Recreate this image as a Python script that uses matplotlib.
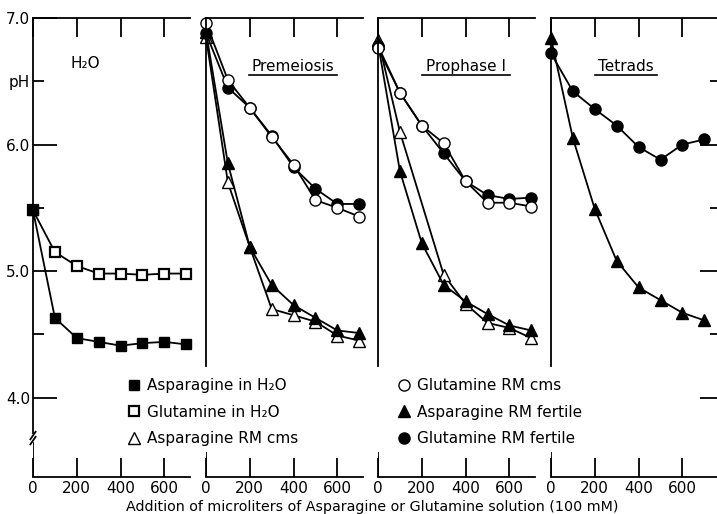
import matplotlib
matplotlib.use("Agg")
import matplotlib.pyplot as plt
from matplotlib.lines import Line2D

plt.rcParams['font.family'] = ['DejaVu Sans']
plt.rcParams['font.size'] = 10

# x: microliters added
x_full = [0, 100, 200, 300, 400, 500, 600, 700]

# H2O panel
asp_h2o = [5.48, 4.63, 4.47, 4.44, 4.41, 4.43, 4.44, 4.42]
glu_h2o = [5.48, 5.15, 5.04, 4.98, 4.98, 4.97, 4.98, 4.98]

# Premeiosis
pre_glu_cms = [6.96, 6.51, 6.29, 6.06, 5.84, 5.56, 5.50, 5.43]
pre_glu_fert = [6.88, 6.45, 6.29, 6.07, 5.82, 5.65, 5.53, 5.53]
pre_asp_fert = [6.89, 5.85, 5.19, 4.89, 4.73, 4.63, 4.53, 4.51]
pre_asp_cms = [6.85, 5.70, 5.19, 4.70, 4.65, 4.60, 4.49, 4.45]

# Prophase I
pro_glu_cms = [6.76, 6.41, 6.15, 6.01, 5.71, 5.54, 5.54, 5.51]
pro_glu_fert = [6.78, 6.41, 6.15, 5.93, 5.71, 5.60, 5.57, 5.58]
pro_asp_fert = [6.80, 5.79, 5.22, 4.89, 4.76, 4.66, 4.57, 4.53]
x_pro_asp_cms = [0, 100, 300, 400, 500, 600, 700]
pro_asp_cms = [6.83, 6.10, 4.97, 4.74, 4.59, 4.55, 4.47]

# Tetrads
tet_glu_fert = [6.72, 6.42, 6.28, 6.15, 5.98, 5.88, 6.00, 6.04]
tet_asp_fert = [6.84, 6.05, 5.49, 5.08, 4.87, 4.77, 4.67, 4.61]

titles = ['H₂O', 'Premeiosis', 'Prophase I', 'Tetrads']
xticks = [0, 200, 400, 600]

styles = {
    'asp_h2o': dict(marker='s', mfc='black', ms=7),
    'glu_h2o': dict(marker='s', mfc='white', ms=7, mew=1.6),
    'asp_cms': dict(marker='^', mfc='white', ms=8),
    'glu_cms': dict(marker='o', mfc='white', ms=8),
    'asp_fert': dict(marker='^', mfc='black', ms=8),
    'glu_fert': dict(marker='o', mfc='black', ms=8),
}

W, H = 717, 514
fig = plt.figure(figsize=(W / 100, H / 100), dpi=100)

lefts = [33, 206, 378, 551]
widths = [157, 157, 157, 166]
px_per_unit = 0.219
bottom, top = 477, 18
ylo, yhi = 3.372, 7.0

axes = []
for l, w in zip(lefts, widths):
    ax = fig.add_axes([l / W, 1 - bottom / H, w / W, (bottom - top) / H])
    ax.set_xlim(0, w / px_per_unit)
    ax.set_ylim(ylo, yhi)
    ax.spines['right'].set_visible(False)
    for s in ax.spines.values():
        s.set_linewidth(1.3)
    ax.set_xticks(xticks)
    ax.tick_params(axis='x', direction='in', top=True, length=14, width=1.3,
                   labelsize=11, pad=3)
    axes.append(ax)


def draw(ax, x, y, key):
    ax.plot(x, y, color='black', lw=1.3, mec='black', clip_on=False,
            **styles[key])


a1, a2, a3, a4 = axes
draw(a1, x_full, glu_h2o, 'glu_h2o')
draw(a1, x_full, asp_h2o, 'asp_h2o')

draw(a2, x_full, pre_asp_cms, 'asp_cms')
draw(a2, x_full, pre_asp_fert, 'asp_fert')
draw(a2, x_full, pre_glu_fert, 'glu_fert')
draw(a2, x_full, pre_glu_cms, 'glu_cms')

draw(a3, x_pro_asp_cms, pro_asp_cms, 'asp_cms')
draw(a3, x_full, pro_asp_fert, 'asp_fert')
draw(a3, x_full, pro_glu_fert, 'glu_fert')
draw(a3, x_full, pro_glu_cms, 'glu_cms')

draw(a4, x_full, tet_asp_fert, 'asp_fert')
draw(a4, x_full, tet_glu_fert, 'glu_fert')

# y axis of first panel, with break
a1.set_yticks([4, 5, 6, 7], labels=['4.0', '5.0', '6.0', '7.0'])
a1.set_yticks([4.5, 5.5, 6.5], labels=['', '', 'pH'], minor=True)
a1.tick_params(axis='y', which='major', direction='in', length=17, width=1.3,
               labelsize=11, pad=2)
a1.tick_params(axis='y', which='minor', direction='in', length=8, width=1.3,
               labelsize=11, pad=2)
a1.spines['left'].set_bounds(3.72, 7.0)
a1.axvline(0, ymin=0, ymax=(3.64 - ylo) / (yhi - ylo), color='black', lw=1.3)
for yb in (3.66, 3.70):
    a1.plot([-12, 12], [yb - 0.03, yb + 0.03], color='black', lw=1.3,
            clip_on=False)

# other panels: split left spine, no y ticks
for ax in (a2, a3, a4):
    ax.spines['left'].set_bounds(4.25, 7.0)
    ax.axvline(0, ymin=0, ymax=(3.56 - ylo) / (yhi - ylo), color='black', lw=1.3)
    ax.tick_params(axis='y', left=False, labelleft=False)

# right ticks on last panel
a4.set_yticks([4, 5, 6])
a4.set_yticks([4.5, 5.5, 6.5], minor=True)
a4.tick_params(axis='y', which='major', right=True, direction='in', length=12,
               width=1.3, labelleft=False)
a4.tick_params(axis='y', which='minor', right=True, direction='in', length=5,
               width=1.3, left=False, labelleft=False)

# panel titles
title_pos = [(240, 6.64), (397, 6.62), (402, 6.62), (343, 6.62)]
for ax, t, (tx, ty), ul in zip(axes, titles, title_pos, [False, True, True, True]):
    txt = ax.text(tx, ty, t, ha='center', va='center', fontsize=11)
    if ul:
        half = len(t) * 20
        ax.plot([tx - half, tx + half], [ty - 0.07, ty - 0.07], color='black',
                lw=1.2)

fig.text(372 / W, 1 - 507 / H,
         'Addition of microliters of Asparagine or Glutamine solution (100 mM)',
         ha='center', va='center', fontsize=10.3)

# legends
def proxy(key):
    return Line2D([], [], color='black', ls='none', mec='black', **styles[key])

leg_kw = dict(loc='upper left', frameon=False, borderpad=0, borderaxespad=0,
              handlelength=1.0, handletextpad=0.4, labelspacing=0.76,
              fontsize=11)
fig.legend([proxy('asp_h2o'), proxy('glu_h2o'), proxy('asp_cms')],
           ['Asparagine in H₂O', 'Glutamine in H₂O', 'Asparagine RM cms'],
           bbox_to_anchor=(126 / W, 1 - 378 / H), **leg_kw)
fig.legend([proxy('glu_cms'), proxy('asp_fert'), proxy('glu_fert')],
           ['Glutamine RM cms', 'Asparagine RM fertile', 'Glutamine RM fertile'],
           bbox_to_anchor=(396 / W, 1 - 378 / H), **leg_kw)

fig.savefig('out.png', dpi=100)
